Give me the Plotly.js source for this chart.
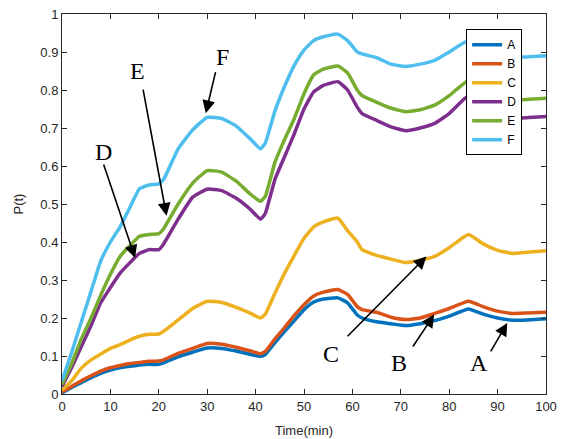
<!DOCTYPE html>
<html>
<head>
<meta charset="utf-8">
<script src="https://cdn.plot.ly/plotly-3.0.1.min.js"></script>
<style>html,body{margin:0;padding:0;background:#fff;}#chart{width:563px;height:439px;}</style>
</head>
<body>
<div id="chart"></div>
<script>
const timeMin = [0,2,4,6,8,10,12,14,16,18,20,21,24,27,30,33,36,39,41,42,44,46,48,50,52,54,57,59,61,62,65,68,71,74,77,80,84,87,90,93,96,100];
const seriesNames = ['A','B','C','D','E','F'];
const seriesA = [0.003,0.017,0.030,0.043,0.054,0.063,0.069,0.073,0.076,0.078,0.078,0.082,0.098,0.110,0.121,0.120,0.113,0.104,0.099,0.104,0.135,0.165,0.193,0.222,0.242,0.250,0.253,0.240,0.208,0.200,0.190,0.185,0.180,0.185,0.193,0.205,0.224,0.210,0.200,0.194,0.195,0.198];
const seriesB = [0.005,0.020,0.035,0.048,0.060,0.069,0.075,0.080,0.083,0.086,0.087,0.090,0.107,0.120,0.133,0.131,0.123,0.113,0.106,0.112,0.145,0.175,0.207,0.235,0.258,0.268,0.275,0.262,0.230,0.222,0.215,0.202,0.196,0.200,0.212,0.225,0.244,0.230,0.218,0.212,0.213,0.215];
const seriesC = [0.010,0.035,0.068,0.090,0.105,0.120,0.130,0.142,0.152,0.157,0.158,0.165,0.195,0.225,0.244,0.241,0.228,0.212,0.200,0.210,0.265,0.318,0.365,0.410,0.440,0.453,0.463,0.430,0.400,0.380,0.365,0.355,0.346,0.352,0.362,0.385,0.420,0.395,0.378,0.370,0.373,0.377];
const seriesD = [0.020,0.070,0.125,0.180,0.240,0.280,0.318,0.345,0.370,0.380,0.380,0.395,0.460,0.518,0.539,0.535,0.515,0.485,0.460,0.475,0.565,0.625,0.685,0.750,0.795,0.812,0.822,0.800,0.755,0.738,0.720,0.703,0.693,0.700,0.712,0.738,0.785,0.760,0.740,0.727,0.727,0.730];
const seriesE = [0.025,0.080,0.145,0.200,0.260,0.315,0.362,0.390,0.415,0.420,0.422,0.435,0.500,0.555,0.588,0.584,0.560,0.525,0.507,0.520,0.610,0.670,0.725,0.790,0.840,0.855,0.863,0.845,0.800,0.785,0.768,0.752,0.743,0.748,0.760,0.785,0.825,0.805,0.785,0.775,0.775,0.778];
const seriesF = [0.035,0.110,0.190,0.270,0.350,0.400,0.440,0.490,0.540,0.550,0.553,0.565,0.645,0.695,0.728,0.725,0.705,0.670,0.645,0.660,0.745,0.810,0.865,0.905,0.930,0.940,0.947,0.930,0.900,0.895,0.885,0.868,0.862,0.868,0.878,0.900,0.930,0.915,0.900,0.888,0.887,0.890];
const seriesColors = ['#0072BD','#D95319','#EDB120','#7E2F8E','#77AC30','#4DBEEE'];

// annotation labels and arrows
const labelText = ['F','E','D','C','B','A'];
const labelPos = [[33.1,0.887],[15.7,0.850],[8.6,0.638],[55.5,0.104],[69.6,0.082],[86.2,0.082]];
const arrowTail = [[31.8,0.851],[16.7,0.805],[8.5,0.608],[58.7,0.148],[72.3,0.121],[88.4,0.108]];
const arrowTip = [[29.7,0.739],[21.6,0.469],[15.1,0.358],[75.3,0.362],[76.9,0.209],[92.0,0.187]];

const allY = [seriesA,seriesB,seriesC,seriesD,seriesE,seriesF];
const traces = seriesNames.map((n,i)=>({
  x: timeMin, y: allY[i], name: n, type:'scatter', mode:'lines',
  line:{color:seriesColors[i], width:3.5, shape:'spline', smoothing:0.4}
}));

const annotations = [];
labelText.forEach((t,i)=>{
  annotations.push({x:labelPos[i][0], y:labelPos[i][1], xref:'x', yref:'y', text:t, showarrow:false,
    font:{family:'Liberation Serif, Times New Roman, serif', size:24, color:'#000'}});
  annotations.push({x:arrowTip[i][0], y:arrowTip[i][1], ax:arrowTail[i][0], ay:arrowTail[i][1],
    xref:'x', yref:'y', axref:'x', ayref:'y', text:'', showarrow:true,
    arrowhead:2, arrowsize:1.6, arrowwidth:1.6, arrowcolor:'#000', standoff:0, startstandoff:0});
});

const axisCommon = {
  showgrid:false, zeroline:false, showline:true, linecolor:'#262626', linewidth:1,
  mirror:'ticks', ticks:'inside', ticklen:5, tickcolor:'#262626',
  tickfont:{family:'Liberation Sans, Arial, sans-serif', size:13, color:'#262626'}
};

const layout = {
  width:563, height:439,
  margin:{l:62, r:17, t:14, b:44.5},
  paper_bgcolor:'#fff', plot_bgcolor:'#fff',
  showlegend:true,
  legend:{x:0.835, y:0.96, xanchor:'left', yanchor:'top', bgcolor:'#fff', bordercolor:'#000', borderwidth:1,
    font:{family:'Liberation Sans, Arial, sans-serif', size:12, color:'#000'}, tracegroupgap:0},
  xaxis:Object.assign({}, axisCommon, {range:[0,100], tickmode:'linear', tick0:0, dtick:10,
    title:{text:'Time(min)', font:{family:'Liberation Sans, Arial, sans-serif', size:13, color:'#262626'}, standoff:13}}),
  yaxis:Object.assign({}, axisCommon, {range:[0,1], tickmode:'linear', tick0:0, dtick:0.1,
    title:{text:'P(t)', font:{family:'Liberation Sans, Arial, sans-serif', size:13, color:'#262626'}, standoff:13}}),
  annotations: annotations
};

Plotly.newPlot('chart', traces, layout, {displayModeBar:false, staticPlot:true});
</script>
</body>
</html>
